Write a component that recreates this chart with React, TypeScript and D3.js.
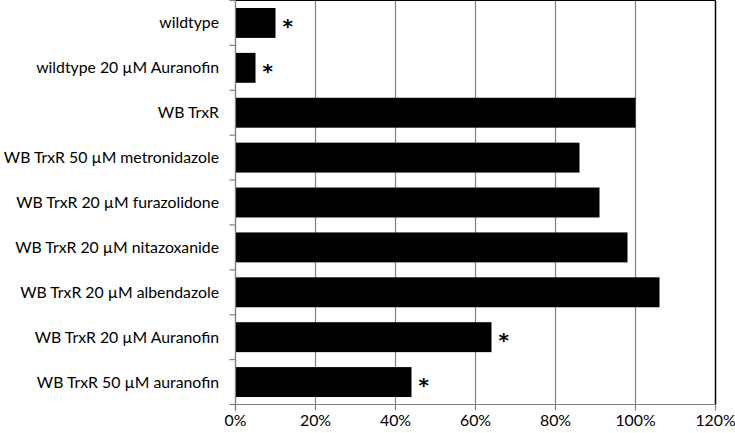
import React from "react";
import * as d3 from "d3";

const categories = [
  "wildtype",
  "wildtype 20 µM Auranofin",
  "WB TrxR",
  "WB TrxR 50 µM metronidazole",
  "WB TrxR 20 µM furazolidone",
  "WB TrxR 20 µM nitazoxanide",
  "WB TrxR 20 µM albendazole",
  "WB TrxR 20 µM Auranofin",
  "WB TrxR 50 µM auranofin",
];
const values = [10, 5, 100, 86, 91, 98, 106, 64, 44];
const significant = [true, true, false, false, false, false, false, true, true];
const xTicks = [0, 20, 40, 60, 80, 100, 120];

export default function App() {
  const width = 735;
  const height = 433;
  const left = 235.5;
  const right = 715.5;
  const top = 0.5;
  const bottom = 404.5;
  const x = d3.scaleLinear().domain([0, 120]).range([left, right]);
  const y = d3
    .scaleBand<string>()
    .domain(categories)
    .range([top, bottom])
    .paddingInner(1 / 3)
    .paddingOuter(1 / 6);
  const step = y.step();
  const font = "Lato, 'Open Sans', sans-serif";

  return (
    <svg
      width={width}
      height={height}
      style={{ position: "absolute", left: 0, top: 0, background: "#fff" }}
    >
      {/* gridlines */}
      {xTicks.map((t) => (
        <line
          key={"g" + t}
          x1={x(t)}
          x2={x(t)}
          y1={top}
          y2={bottom}
          stroke={t === 120 ? "#000" : "#808080"}
          strokeWidth={t === 120 ? 1.5 : 1.2}
        />
      ))}
      <line x1={left} x2={right} y1={top} y2={top} stroke="#000" strokeWidth={1.2} />
      {/* bars */}
      {categories.map((c, i) => (
        <rect
          key={c}
          x={x(0)}
          y={y(c)}
          width={x(values[i]) - x(0)}
          height={y.bandwidth()}
          fill="#000"
        />
      ))}
      {/* asterisks */}
      {categories.map((c, i) =>
        significant[i] ? (
          <text
            key={"s" + c}
            x={x(values[i]) + 7}
            y={(y(c) as number) + y.bandwidth() / 2 + 10}
            fontFamily="'DejaVu Sans', sans-serif"
            fontWeight="bold"
            fontSize={20}
            fill="#000"
          >
            *
          </text>
        ) : null
      )}
      {/* y axis */}
      <line x1={left} x2={left} y1={top} y2={bottom + 6} stroke="#808080" strokeWidth={1.2} />
      {d3.range(categories.length + 1).map((i) => (
        <line
          key={"yt" + i}
          x1={left - 6}
          x2={left}
          y1={top + i * step}
          y2={top + i * step}
          stroke="#808080"
          strokeWidth={1.2}
        />
      ))}
      {categories.map((c) => (
        <text
          key={"l" + c}
          x={219}
          y={(y(c) as number) + y.bandwidth() / 2}
          dy="0.35em"
          textAnchor="end"
          fontFamily={font}
          fontSize={15.8}
          fill="#000"
        >
          {c}
        </text>
      ))}
      {/* x axis */}
      <line x1={left} x2={right} y1={bottom} y2={bottom} stroke="#808080" strokeWidth={1.2} />
      {xTicks.map((t) => (
        <line
          key={"xt" + t}
          x1={x(t)}
          x2={x(t)}
          y1={bottom}
          y2={bottom + 6}
          stroke="#808080"
          strokeWidth={1.2}
        />
      ))}
      {xTicks.map((t) => (
        <text
          key={"xl" + t}
          x={x(t)}
          y={426}
          textAnchor="middle"
          fontFamily={font}
          fontSize={15.8}
          fill="#000"
        >
          {t + "%"}
        </text>
      ))}
    </svg>
  );
}
